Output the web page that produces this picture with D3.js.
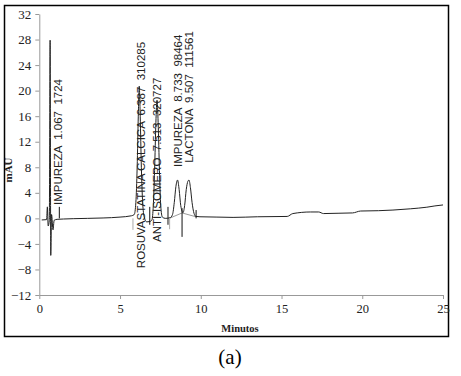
<!DOCTYPE html>
<html>
<head>
<meta charset="utf-8">
<script src="https://cdn.jsdelivr.net/npm/d3@7"></script>
<style>
  html, body { margin: 0; padding: 0; background: #fff; }
  svg { display: block; }
  .peak-label { white-space: pre; }
</style>
</head>
<body>
<div id="chart"></div>
<script>
// Cromatograma (mAU vs minutos)
const traceTime = [0.15, 0.45, 0.50, 0.55, 0.62, 0.67, 0.71, 0.76, 0.85, 0.92, 1.10, 1.50, 2.10, 3.00, 3.95, 5.00, 5.70,
  5.88, 5.98, 6.06, 6.13, 6.19, 6.25, 6.32, 6.40, 6.50, 6.65, 6.85,
  6.98, 7.06, 7.14, 7.22, 7.29, 7.36, 7.44, 7.52, 7.62, 7.80,
  8.10, 8.25, 8.36, 8.46, 8.56, 8.66, 8.76, 8.90, 9.00, 9.10, 9.20, 9.27, 9.36, 9.46, 9.58, 9.70, 9.95,
  11.0, 12.0, 13.5, 15.35, 15.7, 16.8, 17.3, 17.6, 18.5, 19.4, 19.9, 21.0, 21.9, 23.0, 24.0, 24.5, 25.0];
const traceValue = [-0.25, -0.2, 1.8, -1.2, -0.3, 27.9, -5.8, 0.6, -1.8, -0.3, -0.15, -0.1, -0.05, 0.0, 0.06, 0.2, 0.4,
  0.6, 2.5, 8.0, 16.0, 20.7, 16.0, 8.0, 2.5, 0.2, -0.55, -0.5,
  -0.2, 2.0, 7.5, 15.0, 18.5, 15.0, 7.5, 2.0, 0.2, 0.0,
  0.1, 0.6, 2.5, 5.0, 6.0, 4.5, 2.0, 0.9, 2.0, 4.5, 5.8, 6.0, 4.8, 2.5, 0.8, 0.3, 0.25,
  0.2, 0.15, 0.25, 0.3, 0.75, 1.0, 1.0, 0.75, 0.8, 0.85, 1.15, 1.2, 1.3, 1.5, 1.75, 1.95, 2.1];

// linea base de integracion (gris)
const baseTime = [8.10, 8.84, 9.70];
const baseValue = [0.05, 0.85, 0.25];

// marcas verticales de integracion
const markTime = [1.24, 5.80, 6.84, 7.97, 8.07, 8.84, 9.71];
const markTop = [1.8, 0.0, 1.8, 1.8, 0.0, 1.6, 1.3];
const markBottom = [0.0, -1.8, -1.0, -1.0, -1.7, -2.9, 0.0];
const markKind = ["cut", "base", "cut", "cut", "base", "cut", "cut"];

// etiquetas de picos
const peakNames = ["IMPUREZA", "ROSUVASTATINA CALCICA", "ANTI-ISOMERO", "IMPUREZA", "LACTONA"];
const peakRt = ["1.067", "6.387", "7.513", "8.733", "9.507"];
const peakArea = ["1724", "310285", "320727", "98464", "111561"];
const labelTime = [1.13, 6.28, 7.31, 8.55, 9.27];
const labelValue = [2.1, -7.8, -3.7, 8.05, 8.7];

const yTicks = [-12, -8, -4, 0, 4, 8, 12, 16, 20, 24, 28, 32];
const xTicks = [0, 5, 10, 15, 20, 25];

const W = 461, H = 376;
const svg = d3.select("#chart").append("svg")
  .attr("width", W)
  .attr("height", H);

const x = d3.scaleLinear().domain([0, 25]).range([39.3, 443]);
const y = d3.scaleLinear().domain([-12, 32]).range([295, 14]);

// marco
svg.append("rect")
  .attr("x", 4.5).attr("y", 5.5)
  .attr("width", 444).attr("height", 331)
  .attr("fill", "none")
  .attr("stroke", "#000")
  .attr("stroke-width", 1.5);

// eje Y
const yAxis = svg.append("g")
  .attr("transform", `translate(${x(0)},0)`)
  .call(d3.axisLeft(y).tickValues(yTicks).tickSize(4).tickPadding(4).tickSizeOuter(0));
yAxis.select(".domain").attr("stroke", "#999");
yAxis.selectAll(".tick line").attr("stroke", "#999");
yAxis.selectAll(".tick text")
  .attr("font-family", "'Liberation Serif', 'Times New Roman', serif")
  .attr("font-size", "13px")
  .attr("fill", "#222");

// eje X
const xAxis = svg.append("g")
  .attr("transform", `translate(0,${y(-12)})`)
  .call(d3.axisBottom(x).tickValues(xTicks).tickSize(4).tickPadding(5).tickSizeOuter(0));
xAxis.select(".domain").attr("stroke", "#999");
xAxis.selectAll(".tick line").attr("stroke", "#999");
xAxis.selectAll(".tick text")
  .attr("font-family", "'Liberation Serif', 'Times New Roman', serif")
  .attr("font-size", "12.5px")
  .attr("fill", "#222");

svg.append("text")
  .attr("x", 240)
  .attr("y", 332)
  .attr("text-anchor", "middle")
  .attr("font-family", "'Liberation Serif', 'Times New Roman', serif")
  .attr("font-weight", "bold")
  .attr("font-size", "10.5px")
  .attr("fill", "#222")
  .text("Minutos");

svg.append("text")
  .attr("transform", "translate(12,170) rotate(-90)")
  .attr("text-anchor", "middle")
  .attr("font-family", "'Liberation Serif', 'Times New Roman', serif")
  .attr("font-weight", "bold")
  .attr("font-size", "11px")
  .attr("fill", "#222")
  .text("mAU");

svg.append("text")
  .attr("x", 230)
  .attr("y", 364)
  .attr("text-anchor", "middle")
  .attr("font-family", "'Liberation Serif', 'Times New Roman', serif")
  .attr("font-size", "21px")
  .attr("fill", "#000")
  .text("(a)");

// linea base gris
const baseLine = d3.line().x(i => x(baseTime[i])).y(i => y(baseValue[i]));
svg.append("path")
  .attr("d", baseLine(d3.range(baseTime.length)))
  .attr("fill", "none")
  .attr("stroke", "#999")
  .attr("stroke-width", 1);

// traza
const trace = d3.line()
  .x(i => x(traceTime[i]))
  .y(i => y(traceValue[i]))
  .curve(d3.curveMonotoneX);
svg.append("path")
  .attr("d", trace(d3.range(traceTime.length)))
  .attr("fill", "none")
  .attr("stroke", "#222")
  .attr("stroke-width", 1);

// marcas
svg.append("g")
  .selectAll("line")
  .data(d3.range(markTime.length))
  .enter()
  .append("line")
  .attr("x1", i => x(markTime[i]))
  .attr("x2", i => x(markTime[i]))
  .attr("y1", i => y(markTop[i]))
  .attr("y2", i => y(markBottom[i]))
  .attr("stroke", i => markKind[i] === "cut" ? "#111" : "#aaa")
  .attr("stroke-width", 1);

// etiquetas
const fs = 11.5;
svg.append("g")
  .selectAll("text")
  .data(d3.range(peakNames.length))
  .enter()
  .append("text")
  .attr("class", "peak-label")
  .attr("transform", i => `translate(${x(labelTime[i]) + fs * 0.36},${y(labelValue[i])}) rotate(-90)`)
  .attr("font-family", "'Liberation Sans', Arial, sans-serif")
  .attr("font-size", fs + "px")
  .attr("fill", "#222")
  .text(i => `${peakNames[i]}  ${peakRt[i]}  ${peakArea[i]}`);
</script>
</body>
</html>
